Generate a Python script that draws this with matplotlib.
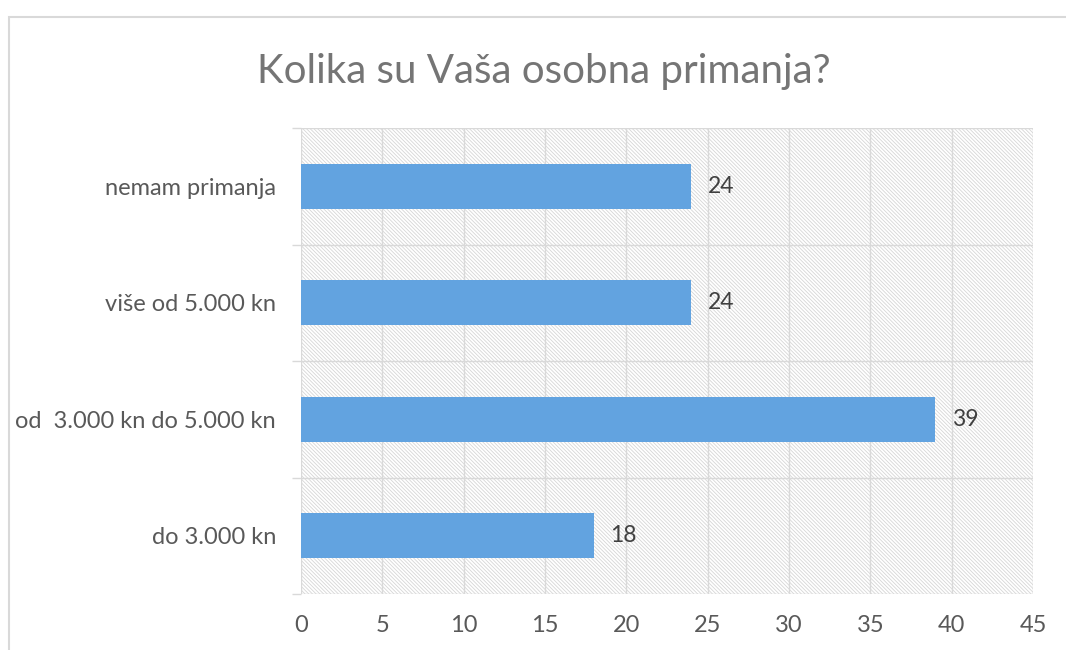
import matplotlib
matplotlib.use("Agg")
import matplotlib.pyplot as plt
from matplotlib.patches import Rectangle

categories = ["do 3.000 kn", "od  3.000 kn do 5.000 kn", "više od 5.000 kn", "nemam primanja"]
values = [18, 39, 24, 24]
xticks = [0, 5, 10, 15, 20, 25, 30, 35, 40, 45]
title = "Kolika su Vaša osobna primanja?"

plt.rcParams['font.family'] = ['Lato', 'DejaVu Sans']
plt.rcParams['hatch.linewidth'] = 0.6

W, H = 1066, 650
fig = plt.figure(figsize=(W / 100, H / 100), dpi=100)
fig.patch.set_facecolor('white')

# outer chart border
fig.add_artist(Rectangle((9 / W, -0.1), 1.2, 1 - 17 / H + 0.1, transform=fig.transFigure,
                         fill=False, edgecolor='#d9d9d9', linewidth=1.5, clip_on=False))

ax = fig.add_axes([301 / W, 56 / H, (1033 - 301) / W, (594 - 128) / H])
ax.set_xlim(0, 45)
ax.set_ylim(-0.5, len(categories) - 0.5)

# hatched plot area
ax.add_patch(Rectangle((0, 0), 1, 1, transform=ax.transAxes, facecolor='white',
                       edgecolor='#d6d6d6', hatch='\\' * 9, linewidth=0, zorder=0))

y = list(range(len(categories)))
ax.barh(y, values, height=0.39, color='#62A3E0', zorder=3)
for yi, v in zip(y, values):
    ax.annotate(str(v), (v, yi), xytext=(12, 0), textcoords='offset points',
                va='center', ha='left', fontsize=16.5, color='#404040', zorder=4)

for s in ax.spines.values():
    s.set_visible(False)

ax.set_xticks(xticks)
ax.set_xticklabels([str(t) for t in xticks], fontsize=17, color='#595959')
ax.tick_params(axis='x', length=0, pad=15)
ax.set_yticks(y)
ax.set_yticklabels(categories, fontsize=17, color='#595959')
ax.tick_params(axis='y', which='major', length=0, pad=18)
ax.set_yticks([i - 0.5 for i in range(len(categories) + 1)], minor=True)
ax.tick_params(axis='y', which='minor', length=6.5, width=1, color='#d9d9d9')

ax.grid(axis='x', which='major', color='#d9d9d9', linewidth=1, zorder=1)
ax.grid(axis='y', which='minor', color='#d9d9d9', linewidth=1, zorder=1)
ax.set_axisbelow(True)

fig.text(544 / W, 1 - 72 / H, title, ha='center', va='center', fontsize=29, color='#757575')

fig.savefig('out.png', dpi=100)
